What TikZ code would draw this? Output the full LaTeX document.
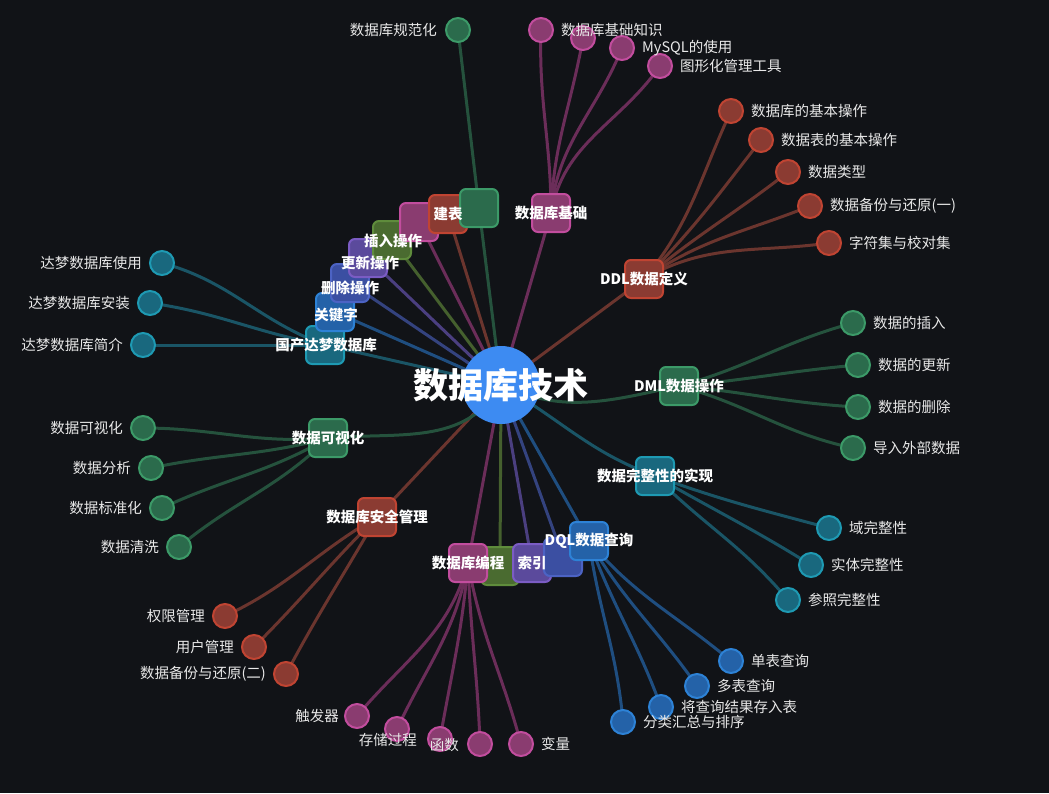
\documentclass[tikz,border=0pt]{standalone}
\usepackage{fontspec}
\setmainfont{Noto Sans CJK SC}
\usetikzlibrary{positioning}
% palette
\definecolor{bgc}{HTML}{111317}
\definecolor{hubc}{HTML}{3D8BF2}
\definecolor{gfill}{HTML}{2B6B4C}\definecolor{gline}{HTML}{3C9A68}\definecolor{gedge}{HTML}{25523D}
\definecolor{pfill}{HTML}{8A3C70}\definecolor{pline}{HTML}{C24D9E}\definecolor{pedge}{HTML}{6B2D59}
\definecolor{rfill}{HTML}{8B3B32}\definecolor{rline}{HTML}{C04432}\definecolor{redge}{HTML}{6B352E}
\definecolor{tfill}{HTML}{19687E}\definecolor{tline}{HTML}{1E9AB3}\definecolor{tedge}{HTML}{1A5566}
\definecolor{bfill}{HTML}{2462A8}\definecolor{bline}{HTML}{2D82D6}\definecolor{bedge}{HTML}{1F4E80}
\definecolor{ifill}{HTML}{3B4FA2}\definecolor{iline}{HTML}{4C63C4}\definecolor{iedge}{HTML}{34437F}
\definecolor{ufill}{HTML}{5B4A9C}\definecolor{uline}{HTML}{7B5CC4}\definecolor{uedge}{HTML}{4B3F80}
\definecolor{ofill}{HTML}{4A6B30}\definecolor{oline}{HTML}{5F8C3C}\definecolor{oedge}{HTML}{45602E}
\definecolor{txt}{HTML}{E8E8E8}
\pgfdeclarelayer{bg}
\pgfdeclarelayer{fg}
\pgfsetlayers{bg,main,fg}
\tikzset{
  hub/.style={circle, fill=hubc, minimum size=78pt, inner sep=0pt},
  htext/.style={text=white, font=\bfseries\fontsize{35}{38}\selectfont, inner sep=0pt},
  sq/.style 2 args={rectangle, rounded corners=6pt, minimum size=38pt, inner sep=0pt,
    fill=#1, draw=#2, line width=2pt},
  leaf/.style 2 args={circle, minimum size=24pt, inner sep=0pt, fill=#1, draw=#2, line width=2pt},
  link/.style={draw=#1, line width=3pt},
  ctext/.style={text=txt, font=\fontsize{14.5}{16}\selectfont, inner sep=0pt},
  btext/.style={text=white, font=\bfseries\fontsize{14.5}{16}\selectfont, inner sep=0pt},
}
\begin{document}
\begin{tikzpicture}[x=1pt, y=1pt]
  \begin{pgfonlayer}{bg}
    \fill[bgc] (0,0) rectangle (1049,-793);
  \end{pgfonlayer}
  \useasboundingbox (0,0) rectangle (1049,-793);
  % centre
  \node[hub] (hub) at (501,-385) {};
  \begin{pgfonlayer}{fg}
    \node[htext] (hub-t) at (hub) {数据库技术};
  \end{pgfonlayer}
  % upper-left arc of branches (lowest first)
  \node[sq={tfill}{tline}] (dm) at (325,-345) {};
  \node[sq={bfill}{bline}] (kw) at (335,-312) {};
  \node[sq={ifill}{iline}] (del) at (350,-283) {};
  \node[sq={ufill}{uline}] (upd) at (368,-258) {};
  \node[sq={ofill}{oline}] (ins) at (392,-240) {};
  \node[sq={pfill}{pline}] (misc) at (419,-222) {};
  \node[sq={rfill}{rline}] (tbl) at (448,-214) {};
  \node[sq={gfill}{gline}] (norm) at (479,-208) {};
  % other branches
  \node[sq={pfill}{pline}] (base) at (551,-213) {};
  \node[sq={rfill}{rline}] (ddl) at (644,-279) {};
  \node[sq={gfill}{gline}] (dml) at (679,-386) {};
  \node[sq={tfill}{tline}] (integ) at (655,-476) {};
  \node[sq={ofill}{oline}] (olv) at (500,-566) {};
  \node[sq={ufill}{uline}] (idx) at (532,-563) {};
  \node[sq={ifill}{iline}] (dqlx) at (563,-557) {};
  \node[sq={bfill}{bline}] (dql) at (589,-541) {};
  \node[sq={pfill}{pline}] (prog) at (468,-563) {};
  \node[sq={rfill}{rline}] (sec) at (377,-517) {};
  \node[sq={gfill}{gline}] (vis) at (328,-438) {};
  % hub links
  \begin{pgfonlayer}{bg}
    \foreach \b/\c in {dm/tedge, kw/bedge, del/iedge, upd/uedge, ins/oedge, misc/pedge,
        tbl/redge, norm/gedge, base/pedge, ddl/redge, olv/oedge, idx/uedge, dqlx/iedge,
        dql/bedge, prog/pedge, sec/redge}
      \draw[link=\c] (hub.center) -- (\b.center);
    \draw[link=gedge] (hub.center) to[out=-25, in=192] (dml.center);
    \draw[link=tedge] (hub.center) to[out=-30, in=160] (integ.center);
    \draw[link=gedge] (hub.center) to[out=-120, in=5] (vis.center);
  \end{pgfonlayer}
  % branch titles
  \begin{pgfonlayer}{fg}
    \node[btext] (tbl-t) at (448,-214) {建表};
    \node[btext] (ins-t) at (393,-241) {插入操作};
    \node[btext] (upd-t) at (370,-263) {更新操作};
    \node[btext] (del-t) at (350,-288) {删除操作};
    \node[btext] (kw-t) at (336,-315) {关键字};
    \node[btext] (dm-t) at (326,-345) {国产达梦数据库};
    \node[btext] (base-t) at (base) {数据库基础};
    \node[btext] (ddl-t) at (ddl) {DDL数据定义};
    \node[btext] (dml-t) at (dml) {DML数据操作};
    \node[btext] (integ-t) at (integ) {数据完整性的实现};
    \node[btext] (dql-t) at (dql) {DQL数据查询};
    \node[btext] (idx-t) at (idx) {索引};
    \node[btext] (prog-t) at (prog) {数据库编程};
    \node[btext] (sec-t) at (sec) {数据库安全管理};
    \node[btext] (vis-t) at (vis) {数据可视化};
  \end{pgfonlayer}
  % leaves: name/x/y/out/in
  \node[leaf={gfill}{gline}] (norm1) at (458,-30) {};
  \begin{pgfonlayer}{bg}\draw[link=gedge] (norm.center) -- (norm1.center);\end{pgfonlayer}
  \foreach \i/\x/\y/\o/\a in {1/541/30/90/-92, 2/583/38/88/-100, 3/622/48/85/-112, 4/660/66/80/-125} {
    \node[leaf={pfill}{pline}] (base\i) at (\x,-\y) {};
    \begin{pgfonlayer}{bg}\draw[link=pedge] (base.center) to[out=\o, in=\a] (base\i.center);\end{pgfonlayer}
  }
  \foreach \i/\x/\y/\o/\a in {1/731/111/50/-115, 2/761/140/45/-128, 3/788/172/40/-142, 4/810/206/35/-158, 5/829/243/30/-172} {
    \node[leaf={rfill}{rline}] (ddl\i) at (\x,-\y) {};
    \begin{pgfonlayer}{bg}\draw[link=redge] (ddl.center) to[out=\o, in=\a] (ddl\i.center);\end{pgfonlayer}
  }
  \foreach \i/\x/\y/\o/\a in {1/853/323/15/195, 2/858/365/5/185, 3/858/407/-5/177, 4/853/448/-15/168} {
    \node[leaf={gfill}{gline}] (dml\i) at (\x,-\y) {};
    \begin{pgfonlayer}{bg}\draw[link=gedge] (dml.center) to[out=\o, in=\a] (dml\i.center);\end{pgfonlayer}
  }
  \foreach \i/\x/\y/\o/\a in {1/829/528/-20/165, 2/811/565/-30/148, 3/788/600/-45/130} {
    \node[leaf={tfill}{tline}] (integ\i) at (\x,-\y) {};
    \begin{pgfonlayer}{bg}\draw[link=tedge] (integ.center) to[out=\o, in=\a] (integ\i.center);\end{pgfonlayer}
  }
  \foreach \i/\x/\y/\o/\a in {1/731/661/-50/140, 2/697/686/-60/125, 3/661/707/-70/110, 4/623/722/-82/95} {
    \node[leaf={bfill}{bline}] (dql\i) at (\x,-\y) {};
    \begin{pgfonlayer}{bg}\draw[link=bedge] (dql.center) to[out=\o, in=\a] (dql\i.center);\end{pgfonlayer}
  }
  \foreach \i/\x/\y/\o/\a in {1/357/716/-105/50, 2/397/729/-100/65, 3/440/739/-95/80, 4/480/744/-88/92, 5/521/744/-80/105} {
    \node[leaf={pfill}{pline}] (prog\i) at (\x,-\y) {};
    \begin{pgfonlayer}{bg}\draw[link=pedge] (prog.center) to[out=\o, in=\a] (prog\i.center);\end{pgfonlayer}
  }
  \foreach \i/\x/\y/\o/\a in {1/225/616/-150/25, 2/254/647/-135/45, 3/286/674/-120/62} {
    \node[leaf={rfill}{rline}] (sec\i) at (\x,-\y) {};
    \begin{pgfonlayer}{bg}\draw[link=redge] (sec.center) to[out=\o, in=\a] (sec\i.center);\end{pgfonlayer}
  }
  \foreach \i/\x/\y/\o/\a in {1/143/428/185/0, 2/151/468/195/12, 3/162/508/210/25, 4/179/547/225/40} {
    \node[leaf={gfill}{gline}] (vis\i) at (\x,-\y) {};
    \begin{pgfonlayer}{bg}\draw[link=gedge] (vis.center) to[out=\o, in=\a] (vis\i.center);\end{pgfonlayer}
  }
  \foreach \i/\x/\y/\o/\a in {1/162/263/160/-15, 2/150/303/170/-8, 3/143/345/180/0} {
    \node[leaf={tfill}{tline}] (dm\i) at (\x,-\y) {};
    \begin{pgfonlayer}{bg}\draw[link=tedge] (dm.center) to[out=\o, in=\a] (dm\i.center);\end{pgfonlayer}
  }
  % leaf labels
  \begin{pgfonlayer}{fg}
    \node[ctext, left=8pt of norm1] (norm1-t) {数据库规范化};
    \foreach \i/\t in {1/数据库基础知识, 3/MySQL的使用, 4/图形化管理工具}
      \node[ctext, right=7pt of base\i] (base\i-t) {\t};
    \foreach \i/\t in {1/数据库的基本操作, 2/数据表的基本操作, 3/数据类型, 4/数据备份与还原(一), 5/字符集与校对集}
      \node[ctext, right=7pt of ddl\i] (ddl\i-t) {\t};
    \foreach \i/\t in {1/数据的插入, 2/数据的更新, 3/数据的删除, 4/导入外部数据}
      \node[ctext, right=7pt of dml\i] (dml\i-t) {\t};
    \foreach \i/\t in {1/域完整性, 2/实体完整性, 3/参照完整性}
      \node[ctext, right=7pt of integ\i] (integ\i-t) {\t};
    \foreach \i/\t in {1/单表查询, 2/多表查询, 3/将查询结果存入表, 4/分类汇总与排序}
      \node[ctext, right=7pt of dql\i] (dql\i-t) {\t};
    \node[ctext, left=5pt of prog1] (prog1-t) {触发器};
    \node[ctext, left=10pt of prog3, yshift=-1pt] (prog3-t) {存储过程};
    \node[ctext, left=8pt of prog4, yshift=-1pt] (prog4-t) {函数};
    \node[ctext, right=7pt of prog5] (prog5-t) {变量};
    \foreach \i/\t in {1/权限管理, 2/用户管理, 3/数据备份与还原(二)}
      \node[ctext, left=7pt of sec\i] (sec\i-t) {\t};
    \foreach \i/\t in {1/数据可视化, 2/数据分析, 3/数据标准化, 4/数据清洗}
      \node[ctext, left=7pt of vis\i] (vis\i-t) {\t};
    \foreach \i/\t in {1/达梦数据库使用, 2/达梦数据库安装, 3/达梦数据库简介}
      \node[ctext, left=7pt of dm\i] (dm\i-t) {\t};
  \end{pgfonlayer}
\end{tikzpicture}
\end{document}
